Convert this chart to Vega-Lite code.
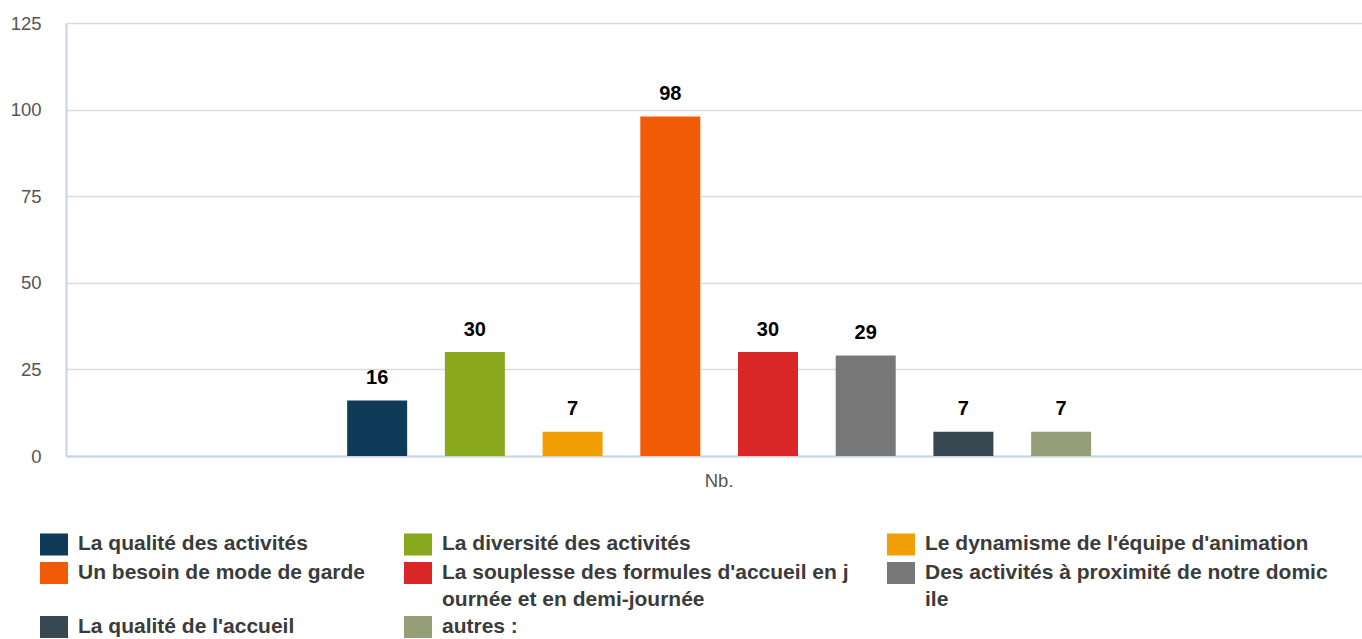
{
  "$schema": "https://vega.github.io/schema/vega-lite/v6.json",
  "width": 1296,
  "height": 433,
  "autosize": {"type": "none"},
  "padding": {"left": 66, "top": 23, "right": 0, "bottom": 183},
  "background": "white",
  "data": {
    "values": [
      {"groupe": "Nb.", "reponse": "La qualité des activités", "n": 16},
      {"groupe": "Nb.", "reponse": "La diversité des activités", "n": 30},
      {"groupe": "Nb.", "reponse": "Le dynamisme de l'équipe d'animation", "n": 7},
      {"groupe": "Nb.", "reponse": "Un besoin de mode de garde", "n": 98},
      {"groupe": "Nb.", "reponse": "La souplesse des formules d'accueil en journée et en demi-journée", "n": 30},
      {"groupe": "Nb.", "reponse": "Des activités à proximité de notre domicile", "n": 29},
      {"groupe": "Nb.", "reponse": "La qualité de l'accueil", "n": 7},
      {"groupe": "Nb.", "reponse": "autres :", "n": 7}
    ]
  },
  "config": {
    "view": {"stroke": null},
    "style": {"guide-label": {"lineHeight": 27}}
  },
  "encoding": {
    "x": {
      "field": "groupe", "type": "nominal",
      "scale": {"paddingInner": 0, "paddingOuter": 0.329, "align": 0.51},
      "axis": {"title": null, "labelAngle": 0, "ticks": false, "domainColor": "#c5d3e3", "domainWidth": 2,
               "labelColor": "#555555", "labelFontSize": 18.5, "labelFont": "Liberation Sans", "labelPadding": 15}
    },
    "xOffset": {
      "field": "reponse", "type": "nominal",
      "sort": ["La qualité des activités", "La diversité des activités", "Le dynamisme de l'équipe d'animation", "Un besoin de mode de garde", "La souplesse des formules d'accueil en journée et en demi-journée", "Des activités à proximité de notre domicile", "La qualité de l'accueil", "autres :"],
      "scale": {"paddingInner": 0.386, "paddingOuter": 0.193}
    },
    "y": {
      "field": "n", "type": "quantitative",
      "scale": {"domain": [0, 125]},
      "axis": {"values": [0, 25, 50, 75, 100, 125], "title": null, "ticks": false, "labelPadding": 25,
               "gridColor": "#dcdcdc", "gridWidth": 1.5, "domainColor": "#c5d3e3", "domainWidth": 2,
               "labelColor": "#555555", "labelFontSize": 18.5, "labelFont": "Liberation Sans"}
    }
  },
  "layer": [
    {
      "mark": {"type": "bar"},
      "encoding": {
        "color": {
          "field": "reponse", "type": "nominal",
          "scale": {
            "domain": ["La qualité des activités", "La diversité des activités", "Le dynamisme de l'équipe d'animation", "Un besoin de mode de garde", "La souplesse des formules d'accueil en journée et en demi-journée", "Des activités à proximité de notre domicile", "La qualité de l'accueil", "autres :"],
            "range": ["#0f3b59", "#89a81d", "#f29f06", "#f25b06", "#d92626", "#787878", "#374850", "#969e78"]
          },
          "legend": {
            "title": null,
            "orient": "none",
            "legendX": -26,
            "legendY": 507,
            "direction": "horizontal",
            "columns": 3,
            "columnPadding": 38,
            "rowPadding": 3,
            "labelOffset": 10,
            "labelLimit": 600,
            "labelFont": "Liberation Sans",
            "labelFontSize": 21,
            "labelFontWeight": "bold",
            "labelColor": "#3b3b3b",
            "labelExpr": "length(datum.label) > 40 ? [substring(datum.label, 0, 40), substring(datum.label, 40)] : datum.label",
            "symbolType": "M-1,-0.786H1V0.786H-1Z",
            "symbolSize": 784,
            "symbolStrokeWidth": 0,
            "symbolOpacity": 1
          }
        }
      }
    },
    {
      "mark": {"type": "text", "dy": -16.5, "baseline": "alphabetic", "fontWeight": "bold", "fontSize": 20, "font": "Liberation Sans", "color": "#000000"},
      "encoding": {"text": {"field": "n", "type": "quantitative"}}
    }
  ]
}
